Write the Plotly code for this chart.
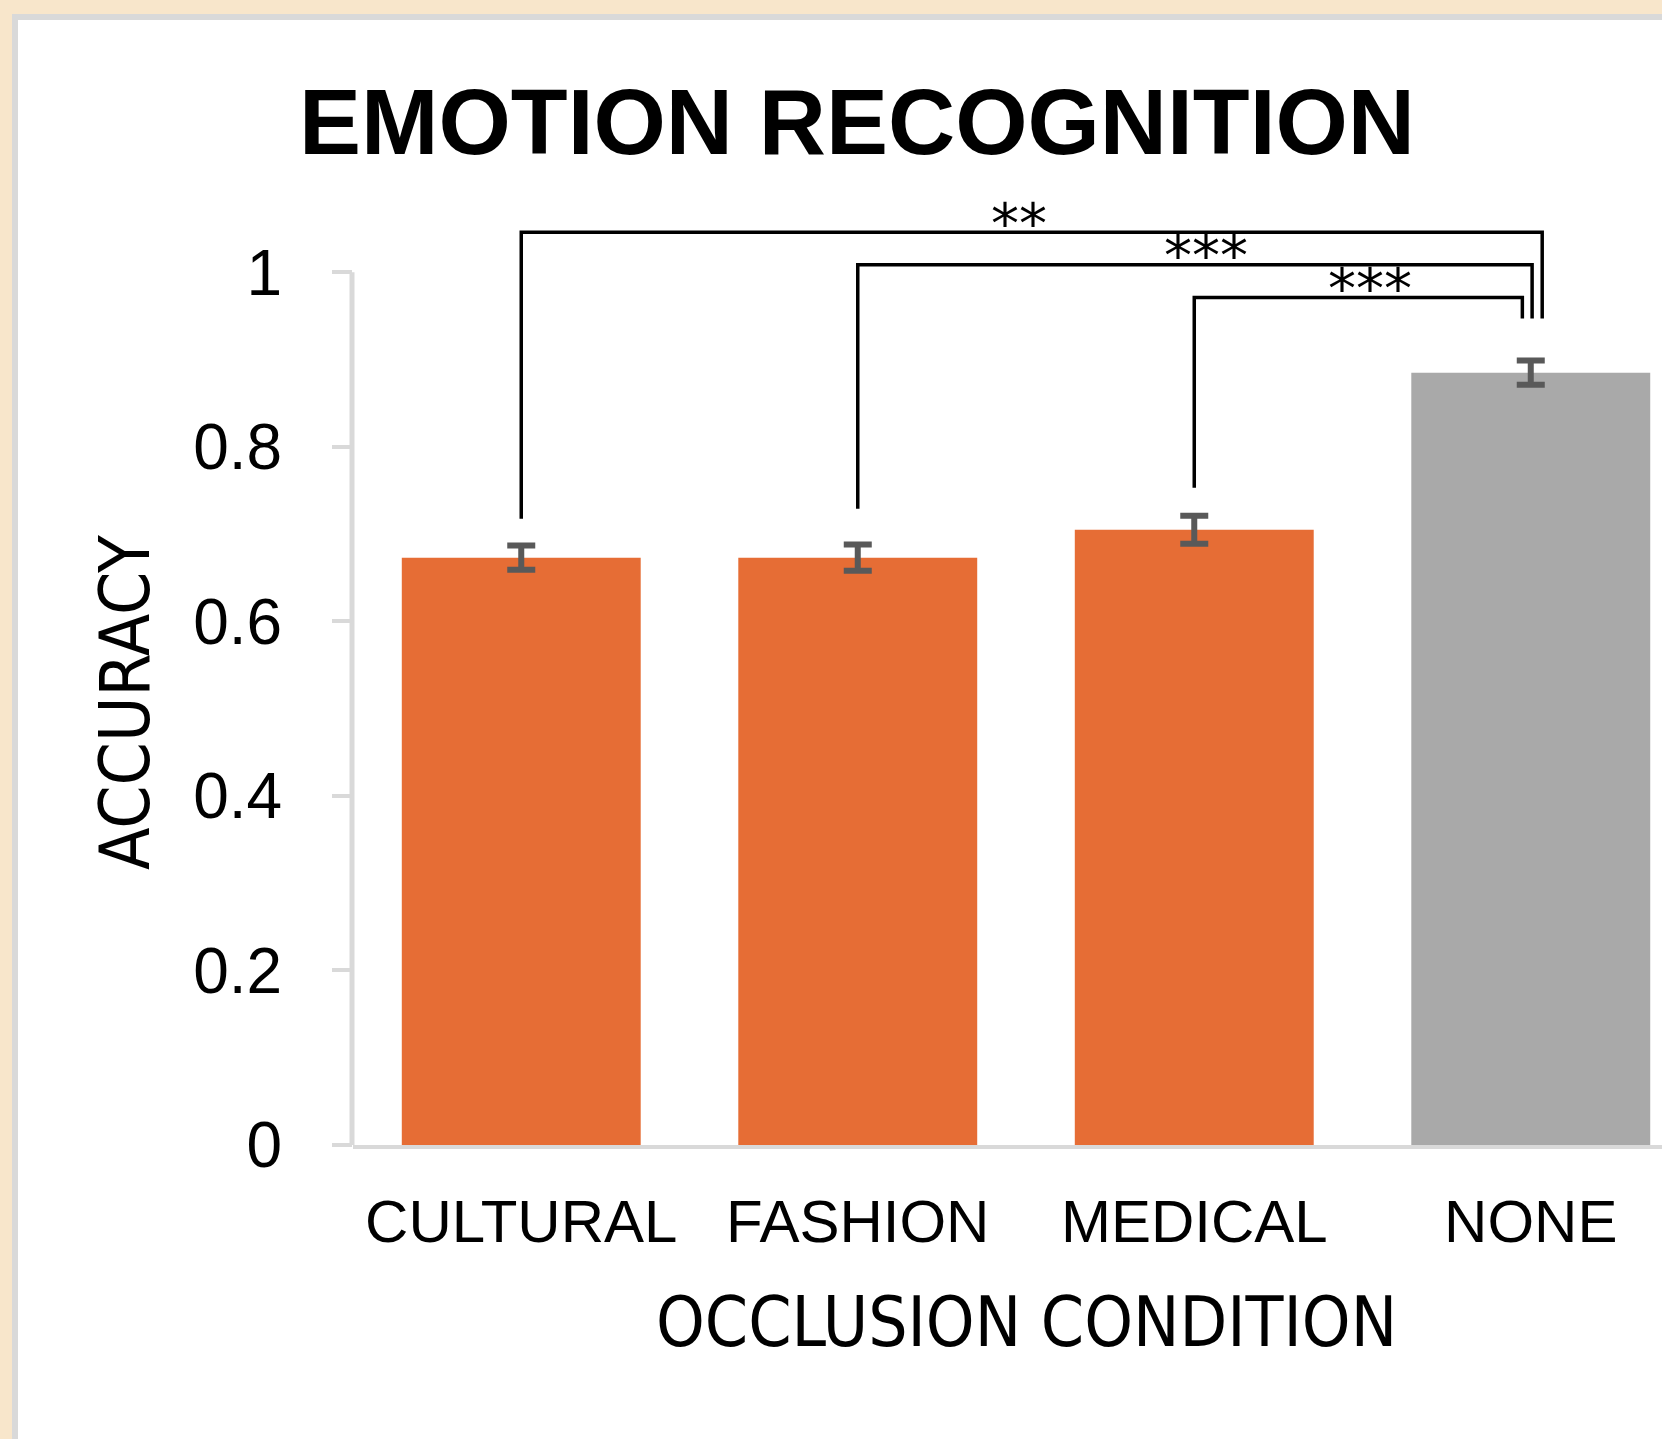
import plotly.graph_objects as go

# ---------------- data ----------------
categories = ["CULTURAL", "FASHION", "MEDICAL", "NONE"]
accuracy = [0.673, 0.673, 0.705, 0.885]
accuracy_err = [0.014, 0.015, 0.016, 0.014]
bar_colors = ["#E66D35", "#E66D35", "#E66D35", "#A9A9A9"]

y_ticks = [0, 0.2, 0.4, 0.6, 0.8, 1]
y_tick_labels = ["0", "0.2", "0.4", "0.6", "0.8", "1"]

# significance brackets (category positions / accuracy units)
sig_left = [0, 1, 2]
sig_right = [3.034, 3.004, 2.975]
sig_top = [1.046, 1.0086, 0.971]
sig_left_end = [0.7175, 0.729, 0.753]
sig_right_end = [0.947, 0.947, 0.947]
sig_label_x = [1.48, 2.036, 2.523]
sig_labels = ["**", "***", "***"]

title_text = "EMOTION RECOGNITION"
x_title = "OCCLUSION CONDITION"
y_title = "ACCURACY"

# ---------------- layout constants ----------------
W, H = 1662, 1439
ML, MR, MT, MB = 353, 0, 185, 294
PW, PH = W - ML - MR, H - MT - MB
Y_MAX = 1.1


def px_x(px):
    return (px - ML) / PW


def px_y(py):
    return (H - MB - py) / PH


fig = go.Figure()

fig.add_trace(go.Bar(
    x=list(range(len(categories))),
    y=accuracy,
    marker=dict(color=bar_colors, line=dict(width=0)),
    error_y=dict(type="data", array=accuracy_err, visible=True,
                 color="#595959", thickness=6, width=14),
    hoverinfo="skip",
    showlegend=False,
))

# brackets
bx, by = [], []
for l, r, t, le, re_ in zip(sig_left, sig_right, sig_top, sig_left_end, sig_right_end):
    bx += [l, l, r, r, None]
    by += [le, t, t, re_, None]
fig.add_trace(go.Scatter(x=bx, y=by, mode="lines",
                         line=dict(color="black", width=3.5),
                         hoverinfo="skip", showlegend=False))

annotations = []
for lx, t, lab in zip(sig_label_x, sig_top, sig_labels):
    annotations.append(dict(
        x=lx, y=t, xref="x", yref="y", text=lab, showarrow=False,
        xanchor="center", yanchor="middle", yshift=9,
        font=dict(family="DejaVu Sans", size=56, color="black"),
    ))

narrow = "Liberation Sans Narrow, Arial Narrow, DejaVu Sans Condensed, Liberation Sans"
annotations.append(dict(
    x=px_x(125), y=px_y(702), xref="paper", yref="paper", text=y_title,
    showarrow=False, textangle=-90, xanchor="center", yanchor="middle",
    font=dict(family=narrow, size=69, color="black"),
))
annotations.append(dict(
    x=px_x(1026.5), y=px_y(1322), xref="paper", yref="paper", text=x_title,
    showarrow=False, xanchor="center", yanchor="middle",
    font=dict(family=narrow, size=69, color="black"),
))

shapes = [
    # white card with grey border
    dict(type="rect", xref="paper", yref="paper",
         x0=px_x(15), x1=px_x(1720), y0=px_y(1500), y1=px_y(17),
         line=dict(color="#D9D9D9", width=6), fillcolor="white", layer="below"),
    # y axis line from 0 to 1
    dict(type="line", xref="paper", yref="y", x0=px_x(352), x1=px_x(352),
         y0=0, y1=1, line=dict(color="#D9D9D9", width=5), layer="below"),
]

fig.update_layout(
    width=W, height=H, autosize=False,
    margin=dict(l=ML, r=MR, t=MT, b=MB, pad=0),
    paper_bgcolor="#F8E6CB",
    plot_bgcolor="rgba(0,0,0,0)",
    bargap=0.29,
    title=dict(text=title_text, xref="container", yref="container",
               x=857 / W, y=1 - 121 / H, xanchor="center", yanchor="middle",
               font=dict(family="Liberation Sans", size=93, color="black", weight="bold")),
    xaxis=dict(range=[-0.5, 3.39], tickvals=list(range(len(categories))),
               ticktext=categories, showline=True, linecolor="#D9D9D9", linewidth=4,
               ticks="", showgrid=False, zeroline=False, ticklabelstandoff=21,
               tickfont=dict(family="Liberation Sans", size=60, color="black"),
               fixedrange=True),
    yaxis=dict(range=[0, Y_MAX], tickvals=y_ticks, ticktext=y_tick_labels,
               showline=False, ticks="outside", ticklen=20, tickwidth=4,
               tickcolor="#D9D9D9", showgrid=False, zeroline=False,
               ticklabelstandoff=37,
               tickfont=dict(family="Liberation Sans", size=64, color="black"),
               fixedrange=True),
    annotations=annotations,
    shapes=shapes,
)

fig.write_html("out.html", config={"displayModeBar": False},
               post_script="document.body.style.margin='0';document.body.style.padding='0';")
